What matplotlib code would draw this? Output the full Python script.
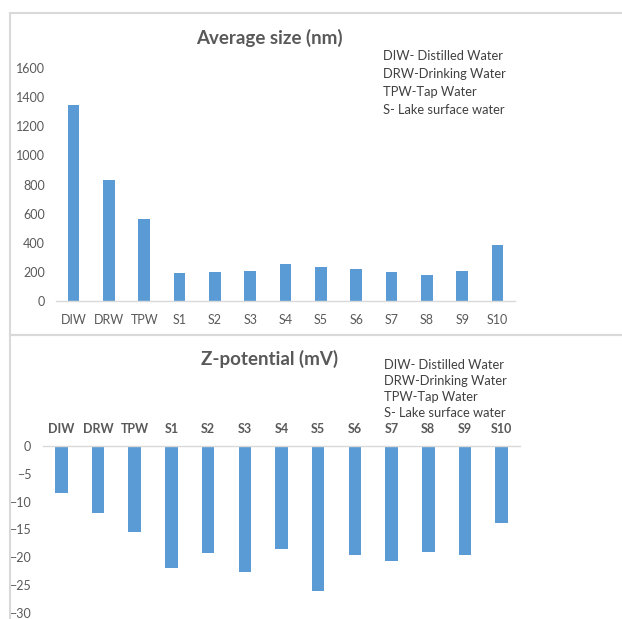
import matplotlib
matplotlib.use("Agg")
import matplotlib.pyplot as plt
from matplotlib.patches import Rectangle

categories = ["DIW", "DRW", "TPW", "S1", "S2", "S3", "S4", "S5", "S6", "S7", "S8", "S9", "S10"]
avg_size = [1344, 829, 563, 192, 197, 208, 256, 233, 220, 199, 178, 208, 387]
zeta = [-8.5, -12.0, -15.4, -21.9, -19.2, -22.6, -18.5, -26.2, -19.6, -20.7, -19.0, -19.7, -13.8]
size_ticks = [0, 200, 400, 600, 800, 1000, 1200, 1400, 1600]
zeta_ticks = [0, -5, -10, -15, -20, -25, -30]
legend_lines = ["DIW- Distilled Water", "DRW-Drinking Water", "TPW-Tap Water", "S- Lake surface water"]

plt.rcParams['font.family'] = ['Lato', 'DejaVu Sans']
W, H = 622, 619
fig = plt.figure(figsize=(W / 100, H / 100), dpi=100)

bar_color = "#5B9BD5"
tick_color = "#595959"
border = "#d9d9d9"
tick_size = 9.0
legend_size = 9.3
title_size = 13.5

def fx(px):
    return px / W

def fy(py):
    return 1 - py / H

# chart borders
fig.add_artist(Rectangle((fx(10), fy(335)), fx(700), (335 - 13) / H, transform=fig.transFigure,
                         fill=False, edgecolor=border, lw=1.5))
fig.add_artist(Rectangle((fx(10), fy(700)), fx(700), (700 - 335) / H, transform=fig.transFigure,
                         fill=False, edgecolor=border, lw=1.5))

x = list(range(len(categories)))

# Top chart
ax1 = fig.add_axes([fx(56), fy(301), fx(515.3 - 56), (301 - 68) / H])
ax1.bar(x, avg_size, width=0.33, color=bar_color)
ax1.set_xlim(-0.5, len(categories) - 0.5)
ax1.set_ylim(0, 1600)
ax1.set_yticks(size_ticks)
ax1.set_xticks(x)
ax1.set_xticklabels(categories)
for s in ["top", "right", "left"]:
    ax1.spines[s].set_visible(False)
ax1.spines["bottom"].set_color(border)
ax1.spines["bottom"].set_linewidth(1.0)
ax1.tick_params(axis="both", length=0, labelsize=tick_size, colors=tick_color)
ax1.tick_params(axis="x", pad=9.5)
ax1.tick_params(axis="y", pad=8)
fig.text(fx(269), fy(38), "Average size (nm)", ha="center", va="center", fontsize=title_size,
         fontweight="bold", color=tick_color)
for i, t in enumerate(legend_lines):
    fig.text(fx(383), fy(56 + 18 * i), t, ha="left", va="center", fontsize=legend_size, color="#404040")

# Bottom chart
ax2 = fig.add_axes([fx(43), fy(612.5), fx(520 - 43), (612.5 - 446.3) / H])
ax2.bar(x, zeta, width=0.34, color=bar_color)
ax2.set_xlim(-0.5, len(categories) - 0.5)
ax2.set_ylim(-30, 0)
ax2.set_yticks(zeta_ticks)
ax2.set_xticks(x)
ax2.set_xticklabels(categories)
ax2.xaxis.tick_top()
for s in ["bottom", "right", "left"]:
    ax2.spines[s].set_visible(False)
ax2.spines["top"].set_color(border)
ax2.spines["top"].set_linewidth(1.0)
ax2.tick_params(axis="both", length=0, labelsize=tick_size, colors=tick_color)
ax2.tick_params(axis="x", pad=8)
ax2.tick_params(axis="y", pad=8.5)
for lab in ax2.get_xticklabels():
    lab.set_fontweight("bold")
fig.text(fx(270), fy(359), "Z-potential (mV)", ha="center", va="center", fontsize=title_size,
         fontweight="bold", color=tick_color)
for i, t in enumerate(legend_lines):
    fig.text(fx(384), fy(365 + 16 * i), t, ha="left", va="center", fontsize=legend_size, color="#404040")

fig.savefig("out.png", dpi=100)
